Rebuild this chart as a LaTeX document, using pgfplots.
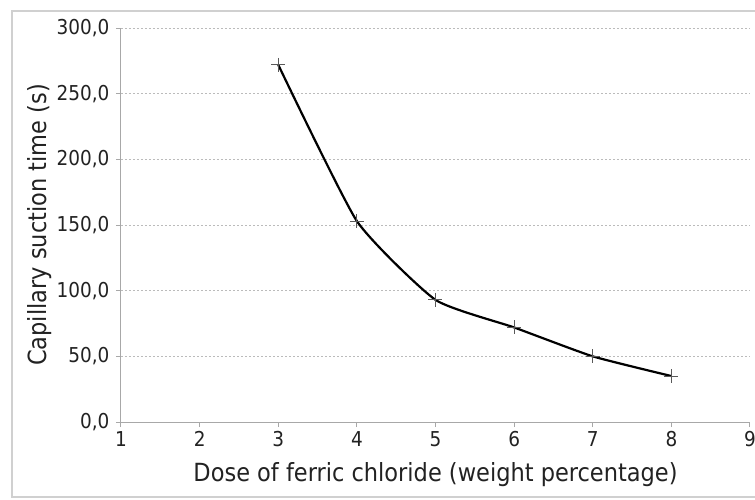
\documentclass[border=0pt]{standalone}
\usepackage{fontspec}
\setmainfont{DejaVu Sans Condensed}
\usepackage{pgfplots}
\pgfplotsset{compat=1.18}
\definecolor{txt}{HTML}{222222}
\definecolor{axgray}{HTML}{A8A8A8}
\definecolor{gridgray}{HTML}{BBBBBB}
\definecolor{framegray}{HTML}{D0D0D0}
\begin{document}
\begin{tikzpicture}
\useasboundingbox (-121pt,-77pt) rectangle (634pt,422pt);
\draw[framegray, line width=1.2pt] (-109pt,-75pt) rectangle (660pt,411pt);
\begin{axis}[
    at={(0pt,0pt)}, anchor=south west,
    scale only axis,
    width=629pt, height=394pt,
    xmin=1, xmax=9, ymin=0, ymax=300,
    xtick={1,...,9}, ytick={0,50,...,300},
    axis x line=bottom, axis y line=left,
    axis line style={-, axgray, line width=1pt},
    tick style={axgray, line width=1pt},
    tick align=outside, major tick length=5pt,
    ymajorgrids,
    grid style={gridgray, line width=0.9pt, dash pattern=on 2pt off 2pt},
    yticklabel style={xshift=-3pt, /pgf/number format/.cd, fixed, fixed zerofill, precision=1, use comma},
    /pgf/number format/assume math mode=true,
    ticklabel style={font=\fontsize{20.5}{24}\selectfont, text=txt},
    xticklabel style={yshift=-1pt},
    xlabel={Dose of ferric chloride (weight percentage)},
    ylabel={Capillary suction time (s)},
    xlabel style={font=\fontsize{25}{29}\selectfont, text=txt,
        at={(axis description cs:0.5,-0.133)}, anchor=center},
    ylabel style={font=\fontsize{25}{29}\selectfont, text=txt,
        at={(axis description cs:-0.129,0.5)}, anchor=center},
    clip=false,
]
\addplot[black, line width=2.2pt, smooth, tension=0.3, mark=+, mark size=7pt,
    mark options={draw=black!65, line width=0.8pt}] coordinates {
    (3,272) (4,153) (5,93) (6,72) (7,50) (8,35)
};
\end{axis}
\end{tikzpicture}
\end{document}
